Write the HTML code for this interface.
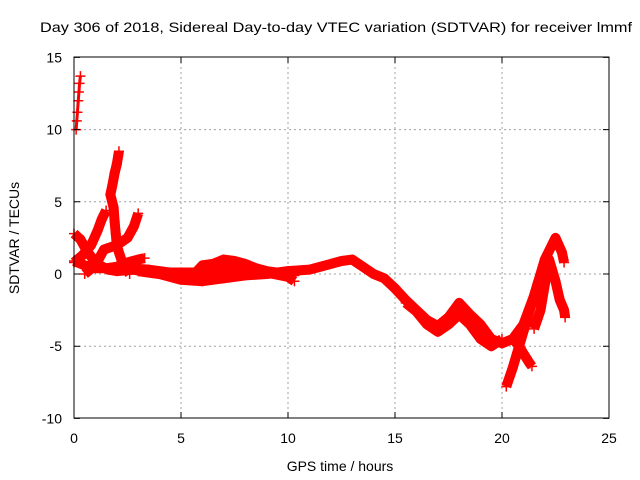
<!DOCTYPE html>
<html><head><meta charset="utf-8"><style>
body{margin:0;background:#fff}
svg{display:block;font-family:"Liberation Sans",sans-serif}
</style></head><body>
<svg id="chart" width="640" height="480" viewBox="0 0 640 480">
<rect width="640" height="480" fill="#fff"/>
<text x="336" y="32" font-size="14" text-anchor="middle" textLength="592" lengthAdjust="spacingAndGlyphs">Day 306 of 2018, Sidereal Day-to-day VTEC variation (SDTVAR) for receiver lmmf</text>
<g id="grid"></g>
<g id="series"></g>
<rect x="74" y="57" width="535" height="361" fill="none" stroke="#000" stroke-width="1"/>
<g id="ticks"></g>
<text x="340" y="471" font-size="14" text-anchor="middle">GPS time / hours</text>
<text x="0" y="0" font-size="14" text-anchor="middle" transform="translate(19,238) rotate(-90)">SDTVAR / TECUs</text>
</svg>
<script>
const xTicks=[0,5,10,15,20,25];
const yTicks=[-10,-5,0,5,10,15];
const trackA=[[0.1,10],[0.13,10.6],[0.16,11.2],[0.2,12],[0.23,12.6],[0.26,13.2],[0.3,13.7]];
const trackB=[[2.1,8.5],[2.0,7.6],[1.9,7],[1.8,6.2],[1.7,5.5],[1.85,4.6],[1.9,3.6],[1.95,2.8],[2.0,2],[2.1,1.5],[2.3,0.6],[2.6,0]];
const trackC=[[0,2.8],[0.3,2.4],[0.6,1.6],[0.9,1.0],[1.2,0.6],[1.6,0.3],[2,0.2],[2.8,0.3],[3.5,0.1],[4.5,-0.1],[5,-0.3],[6,-0.3],[7,-0.2],[8,0],[9,0.1],[10,-0.2],[10.3,-0.5]];
const trackD=[[0,0.8],[0.4,1.3],[0.8,2.0],[1.1,3],[1.3,3.8],[1.5,4.4]];
const trackE=[[0.5,0],[1,0.6],[1.4,1.7],[2,2.0],[2.5,2.5],[2.8,3.3],[3,4.2]];
const trackF=[[0,0.9],[0.5,0.6],[1,0.4],[1.5,0.4],[2,0.5],[2.5,0.8],[3,1.0],[3.3,1.1]];
const trackG=[[3,0.2],[4,0],[5,-0.4],[6,-0.5],[7,-0.3],[8,-0.1],[9,0],[10,0.2],[11,0.3],[12,0.7],[12.5,0.9],[13,1.0],[13.5,0.5],[14,0],[14.5,-0.3],[15,-1.0],[15.5,-1.8],[16,-2.5],[16.5,-3.2],[17,-3.6],[17.5,-3.0],[18,-2.0],[18.5,-2.8],[19,-3.5],[19.5,-4.5],[20,-4.8],[20.5,-4.5],[21,-3.5],[21.5,-1.5],[22,1.0],[22.5,2.5],[22.8,1.5],[22.9,0.8]];
const trackH=[[5.5,-0.2],[6,0.6],[6.5,0.7],[7,1.0],[7.5,0.9],[8,0.7],[8.5,0.4],[9,0.2]];
const trackM=[[2.5,0.4],[3.5,0.3],[4.5,0.1],[5.5,0.1],[6.5,0.2],[7.5,0.5],[8.5,0.3],[9.5,0.1],[10.5,0.2]];
const trackI=[[15.5,-2],[16,-2.6],[16.5,-3.5],[17,-4.0],[17.5,-3.5],[18,-2.8],[18.5,-3.5],[19,-4.5],[19.5,-5.0],[20,-4.5]];
const trackJ=[[20.2,-7.8],[20.5,-6.5],[20.8,-5],[21,-4.0],[21.2,-3],[21.5,-1.5],[21.7,-0.5]];
const trackK=[[20.5,-4.5],[20.8,-5.0],[21,-5.5],[21.3,-6.2],[21.4,-6.4]];
const trackL=[[21.5,-3.8],[21.8,-2.5],[22.2,1],[22.5,-0.5],[22.7,-1.8],[22.9,-2.5],[22.95,-3]];
const tracks=[trackA,trackB,trackC,trackD,trackE,trackF,trackG,trackH,trackM,trackI,trackJ,trackK,trackL];
const NS='http://www.w3.org/2000/svg';
const X=v=>74+v*(535/25);
const Y=v=>274-v*(361/25);
const grid=document.getElementById('grid'),ticks=document.getElementById('ticks'),ser=document.getElementById('series');
xTicks.forEach(t=>{
  if(t>0&&t<25){const l=document.createElementNS(NS,'line');
  
  
  l.setAttribute('x1',X(t));l.setAttribute('x2',X(t));l.setAttribute('y1',57);l.setAttribute('y2',418);
  l.setAttribute('stroke','#a0a0a0');l.setAttribute('stroke-dasharray','2,3');grid.appendChild(l);}
  const tk=document.createElementNS(NS,'path');
  
  
  tk.setAttribute('d',`M${X(t)},418v-6M${X(t)},57v6`);tk.setAttribute('stroke','#000');ticks.appendChild(tk);
  const tx=document.createElementNS(NS,'text');
  
  
  tx.setAttribute('x',X(t));tx.setAttribute('y',443);tx.setAttribute('font-size','14');tx.setAttribute('text-anchor','middle');tx.textContent=t;ticks.appendChild(tx);
});
yTicks.forEach(t=>{
  if(t>-10&&t<15){const l=document.createElementNS(NS,'line');
  
  
  l.setAttribute('x1',74);l.setAttribute('x2',609);l.setAttribute('y1',Y(t));l.setAttribute('y2',Y(t));
  l.setAttribute('stroke','#a0a0a0');l.setAttribute('stroke-dasharray','2,3');grid.appendChild(l);}
  const tk=document.createElementNS(NS,'path');
  
  
  tk.setAttribute('d',`M74,${Y(t)}h6M609,${Y(t)}h-6`);tk.setAttribute('stroke','#000');ticks.appendChild(tk);
  const tx=document.createElementNS(NS,'text');
  
  
  tx.setAttribute('x',62);tx.setAttribute('y',Y(t)+5);tx.setAttribute('font-size','14');tx.setAttribute('text-anchor','end');tx.textContent=t;ticks.appendChild(tx);
});
tracks.forEach(tr=>{
  const p=document.createElementNS(NS,'polyline');
  
  
  p.setAttribute('points',tr.map(d=>X(d[0])+','+Y(d[1])).join(' '));
  p.setAttribute('fill','none');p.setAttribute('stroke','#f00');p.setAttribute('stroke-width',tr===trackA?3:10);p.setAttribute('stroke-linejoin','round');
  ser.appendChild(p);
  tr.forEach(d=>{
    const m=document.createElementNS(NS,'path');
    
    
    const x=X(d[0]),y=Y(d[1]);
    m.setAttribute('d',`M${x-5},${y}h10M${x},${y-5}v10`);m.setAttribute('stroke','#f00');m.setAttribute('stroke-width','1.5');
    ser.appendChild(m);
  });
});
</script>
</body></html>
